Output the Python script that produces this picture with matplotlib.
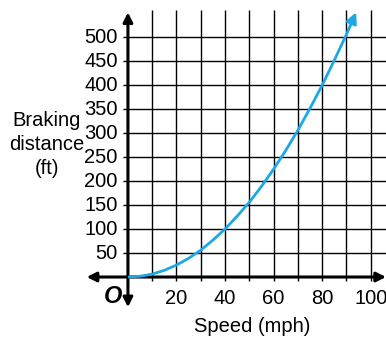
import matplotlib
matplotlib.use("Agg")
import matplotlib.pyplot as plt

speed = [0, 5, 10, 15, 20, 25, 30, 35, 40, 45, 50, 55, 60, 65, 70, 75, 80, 85, 90, 94]
distance = [0, 1.6, 6, 14, 25, 39, 56, 77, 100, 127, 156, 189, 225, 264, 306, 352, 400, 452, 506, 552]
x_ticks = [20, 40, 60, 80, 100]
y_ticks = [50, 100, 150, 200, 250, 300, 350, 400, 450, 500]
x_grid = [10, 20, 30, 40, 50, 60, 70, 80, 90, 100]

plt.rcParams['font.family'] = ['Liberation Sans', 'DejaVu Sans']

fig = plt.figure(figsize=(3.86, 3.39), dpi=100)
ax = fig.add_axes([0, 0, 1, 1])
ax.set_xlim(-52.7, 106.3)
ax.set_ylim(-129.3, 577.8)
ax.axis('off')

ax.vlines(x_grid, -8, 557, color='black', lw=1.0, zorder=1)
ax.hlines(y_ticks, -2, 106.3, color='black', lw=1.0, zorder=1)

# axes with arrows
ax.annotate('', xy=(106.3, 0), xytext=(-17, 0),
            arrowprops=dict(arrowstyle='<|-|>', color='black', lw=2.2,
                            mutation_scale=14, shrinkA=0, shrinkB=0), zorder=3)
ax.annotate('', xy=(0, 552), xytext=(0, -63),
            arrowprops=dict(arrowstyle='<|-|>', color='black', lw=2.2,
                            mutation_scale=14, shrinkA=0, shrinkB=0), zorder=3)

# curve
ax.plot(speed[:-1], distance[:-1], color='#1aa9e6', lw=2.0, zorder=4,
        solid_capstyle='butt', solid_joinstyle='round')
ax.annotate('', xy=(speed[-1], distance[-1]), xytext=(speed[-2], distance[-2]),
            arrowprops=dict(arrowstyle='-|>', color='#1aa9e6', lw=2.0,
                            mutation_scale=16, shrinkA=0, shrinkB=0), zorder=4)

for t in y_ticks:
    ax.text(-4.2, t, str(t), ha='right', va='center', fontsize=14.5)
for t in x_ticks:
    ax.text(t, -44, str(t), ha='center', va='center', fontsize=14.5)

ax.text(-6.2, -41, 'O', ha='center', va='center', fontsize=17,
        fontweight='bold', fontstyle='italic')
ax.text(-33.4, 276, 'Braking\ndistance\n(ft)', ha='center', va='center',
        fontsize=14.5, linespacing=1.35)
ax.text(51, -104, 'Speed (mph)', ha='center', va='center', fontsize=14.5)

fig.savefig('out.png', dpi=100)
